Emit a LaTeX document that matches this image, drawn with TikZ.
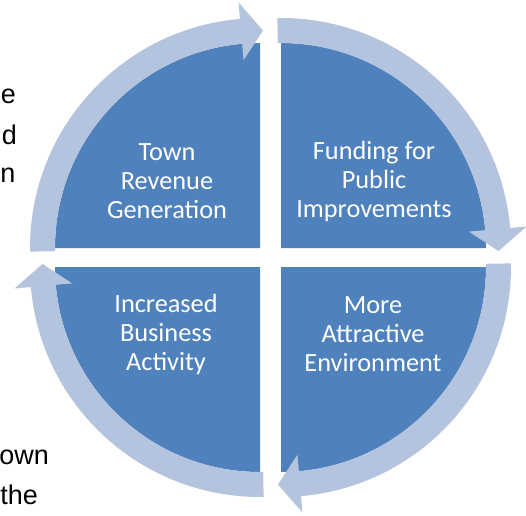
\documentclass[tikz,border=0pt]{standalone}
\usepackage{fontspec}
\setmainfont{Carlito}
\newfontfamily\bodyfont{Liberation Sans}
\definecolor{quadblue}{RGB}{79,129,189}
\definecolor{arrowblue}{RGB}{180,195,222}
\newcommand{\cyclearrow}[4]{%
  \begin{scope}[shift={(#1)}]
    \fill[ringarrow] (#2:230pt) arc[start angle=#2,end angle=#3,radius=230pt]
      -- (#3:246.5pt) -- (#4:217.5pt) -- (#3:188.5pt)
      -- (#3:205pt) arc[start angle=#3,end angle=#2,radius=205pt] -- cycle;
  \end{scope}}
\begin{document}
\begin{tikzpicture}[x=1pt,y=1pt,
  quad/.style={fill=quadblue},
  ringarrow/.style={fill=arrowblue},
  quadtext/.style={text=white,align=center,inner sep=0pt,font=\fontsize{26.3}{29}\selectfont},
  frag/.style={font=\bodyfont\fontsize{27}{30}\selectfont,text=black,anchor=base east,inner sep=0pt}]
\useasboundingbox (0,0) rectangle (526,515);
\clip (0,0) rectangle (526,515);
\coordinate (c1) at (260,267);
\coordinate (c2) at (281,267);
\coordinate (c3) at (281,248);
\coordinate (c4) at (260,248);
% quadrants
\fill[quad] (c1) -- ++(180:205pt) arc[start angle=180,end angle=90,radius=205pt] -- cycle;
\fill[quad] (c2) -- ++(90:205pt) arc[start angle=90,end angle=0,radius=205pt] -- cycle;
\fill[quad] (c3) -- ++(0:205pt) arc[start angle=0,end angle=-90,radius=205pt] -- cycle;
\fill[quad] (c4) -- ++(270:205pt) arc[start angle=270,end angle=180,radius=205pt] -- cycle;
% ring arrows
\cyclearrow{c1}{180.9}{95}{89.2}
\cyclearrow{c2}{90.9}{5}{-0.8}
\cyclearrow{c3}{0.9}{-85}{-90.8}
\cyclearrow{c4}{270.9}{185}{179.2}
% labels
\node[quadtext] (tl) at (167,334) {Town\\Revenue\\Generation};
\node[quadtext] (tr) at (374,334) {Funding for\\Public\\Improvements};
\node[quadtext] (br) at (373,181) {More\\Attractive\\Environment};
\node[quadtext] (bl) at (166,181) {Increased\\Business\\Activity};
% fragments of surrounding text
\node[frag] (f1) at (16,411) {e};
\node[frag] (f2) at (17,371) {d};
\node[frag] (f3) at (15.5,333) {n};
\node[frag] (f4) at (49,51) {own};
\node[frag] (f5) at (38,11) {the};
\end{tikzpicture}
\end{document}
